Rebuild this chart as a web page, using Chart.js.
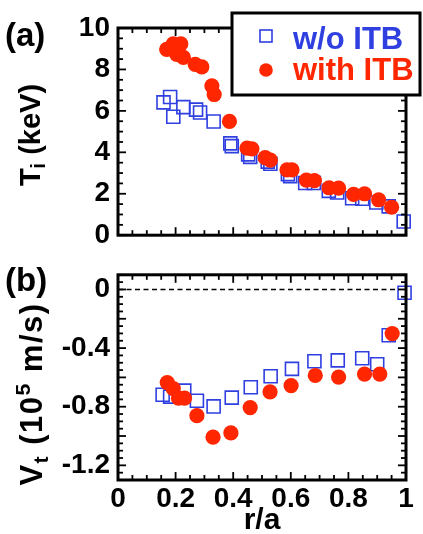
<!DOCTYPE html>
<html><head><meta charset="utf-8">
<script src="https://cdn.jsdelivr.net/npm/chart.js@4.4.1/dist/chart.umd.min.js"></script>
<style>
html,body{margin:0;padding:0;background:#fff;width:423px;height:534px;overflow:hidden;font-family:"Liberation Sans",Arial,sans-serif;}
canvas{position:absolute;left:0;}
#c1{top:0;}
#c2{top:250px;}
.lbl{position:absolute;font-weight:bold;color:#000;white-space:nowrap;line-height:1;}
.rot{transform:translate(-50%,-50%) rotate(-90deg);}
.rot sub{font-size:0.68em;vertical-align:-0.3em;line-height:0;}
.rot sup{font-size:0.68em;vertical-align:0.55em;line-height:0;}
</style></head><body>
<canvas id="c1" width="423" height="260"></canvas>
<canvas id="c2" width="423" height="284"></canvas>
<div class="lbl" style="left:5px;top:18px;font-size:33px;">(a)</div>
<div class="lbl" style="left:5px;top:263px;font-size:33px;">(b)</div>
<div class="lbl rot" style="left:30px;top:135px;font-size:29px;">T<sub>i</sub> (keV)</div>
<div class="lbl rot" style="left:31px;top:394px;font-size:31px;letter-spacing:1.5px;">V<sub>t</sub> (10<sup>5</sup> m/s)</div>
<script>
// ---- data ----
const seriesNames = ['w/o ITB', 'with ITB'];
const xTickValues = [0, 0.2, 0.4, 0.6, 0.8, 1];
const xTickLabels = ['0', '0.2', '0.4', '0.6', '0.8', '1'];
const tiTickValues = [0, 2, 4, 6, 8, 10];
const tiTickLabels = ['0', '2', '4', '6', '8', '10'];
const vtTickValues = [-1.2, -0.8, -0.4, 0];
const vtTickLabels = ['-1.2', '-0.8', '-0.4', '0'];

// (a) Ti profiles
const tiNoItbR = [0.158, 0.181, 0.192, 0.227, 0.271, 0.285, 0.332, 0.390, 0.395, 0.452, 0.459, 0.520, 0.529, 0.590, 0.598, 0.650, 0.680, 0.732, 0.761, 0.813, 0.848, 0.897, 0.940, 0.992];
const tiNoItbT = [6.41, 6.67, 5.72, 6.18, 6.06, 5.92, 5.49, 4.43, 4.30, 3.90, 3.78, 3.55, 3.45, 2.95, 2.85, 2.52, 2.52, 2.14, 2.06, 1.78, 1.76, 1.58, 1.39, 0.66];
const tiItbR = [0.169, 0.192, 0.218, 0.204, 0.227, 0.268, 0.291, 0.326, 0.334, 0.387, 0.448, 0.465, 0.511, 0.529, 0.587, 0.604, 0.654, 0.682, 0.733, 0.766, 0.818, 0.856, 0.905, 0.950];
const tiItbT = [8.97, 9.23, 9.23, 8.73, 8.58, 8.24, 8.12, 7.21, 6.79, 5.49, 4.20, 4.17, 3.74, 3.62, 3.15, 3.15, 2.66, 2.63, 2.29, 2.27, 1.97, 2.00, 1.71, 1.35];

// (b) Vt profiles (10^5 m/s)
const vtNoItbR = [0.155, 0.181, 0.230, 0.274, 0.332, 0.395, 0.461, 0.530, 0.604, 0.682, 0.763, 0.848, 0.900, 0.940, 0.995];
const vtNoItbV = [-0.718, -0.731, -0.690, -0.759, -0.798, -0.738, -0.667, -0.592, -0.542, -0.490, -0.484, -0.469, -0.510, -0.312, -0.022];
const vtItbR = [0.171, 0.192, 0.210, 0.231, 0.274, 0.330, 0.392, 0.459, 0.528, 0.601, 0.685, 0.766, 0.856, 0.909, 0.952];
const vtItbV = [-0.635, -0.677, -0.742, -0.742, -0.861, -1.008, -0.979, -0.806, -0.699, -0.656, -0.587, -0.598, -0.577, -0.577, -0.301];

// ---- styles ----
const BLUE = '#2f3fe0';
const RED = '#ff2600';
const FONT = '"Liberation Sans", Arial, sans-serif';

function pts(xs, ys) { return xs.map((x, i) => ({x: x, y: ys[i]})); }

function blueSet(xs, ys) {
  return {label: seriesNames[0], data: pts(xs, ys), pointStyle: 'rect', pointRadius: 9.2,
    pointBorderWidth: 1.6, pointBorderColor: BLUE, pointBackgroundColor: 'rgba(0,0,0,0)',
    borderColor: BLUE, backgroundColor: 'rgba(0,0,0,0)', showLine: false, order: 1, clip: false};
}
function redSet(xs, ys) {
  return {label: seriesNames[1], data: pts(xs, ys), pointStyle: 'circle', pointRadius: 7.6,
    pointBorderWidth: 0, pointBackgroundColor: RED, borderColor: RED, backgroundColor: RED,
    showLine: false, order: 0, clip: false};
}

function line(ctx, x1, y1, x2, y2) { ctx.beginPath(); ctx.moveTo(x1, y1); ctx.lineTo(x2, y2); ctx.stroke(); }

// frame + inward ticks on all four sides
const framePlugin = {
  id: 'frame',
  afterDatasetsDraw(chart, args, o) {
    const {ctx, chartArea: a, scales} = chart;
    ctx.save();
    ctx.strokeStyle = '#000';
    ctx.lineWidth = 1.8;
    const xs = scales.x, ys = scales.y;
    for (let k = 0; k <= 20; k++) {
      const px = xs.getPixelForValue(k * 0.05);
      const len = (k % 4 === 0) ? 8 : 5;
      line(ctx, px, a.bottom, px, a.bottom - len);
      line(ctx, px, a.top, px, a.top + len);
    }
    for (let k = o.kMin; k <= o.kMax; k++) {
      const v = k * o.minor;
      const py = ys.getPixelForValue(v);
      const len = (k % o.every === 0) ? 8 : 5;
      line(ctx, a.left, py, a.left + len, py);
      line(ctx, a.right, py, a.right - len, py);
    }
    if (o.zeroLine) {
      ctx.lineWidth = 1.5;
      ctx.setLineDash([5, 3.5]);
      const py = ys.getPixelForValue(0);
      line(ctx, a.left, py, xs.getPixelForValue(0.967), py);
      ctx.setLineDash([]);
    }
    ctx.lineWidth = 3;
    ctx.strokeRect(a.left, a.top, a.right - a.left, a.bottom - a.top);
    ctx.restore();
  }
};

// legend box drawn from the datasets
const legendPlugin = {
  id: 'boxLegend',
  afterDraw(chart, args, o) {
    if (!o.show) return;
    const ctx = chart.ctx;
    ctx.save();
    ctx.fillStyle = '#fff';
    ctx.fillRect(232, 13, 188, 82);
    ctx.strokeStyle = '#000';
    ctx.lineWidth = 3;
    ctx.strokeRect(232, 13, 188, 82);
    const ds = chart.data.datasets;
    const rows = [{my: 36, ty: 40}, {my: 70, ty: 71}];
    ds.forEach((d, i) => {
      const r = rows[i];
      if (d.pointStyle === 'rect') {
        ctx.strokeStyle = d.pointBorderColor; ctx.lineWidth = 1.6;
        ctx.strokeRect(260, r.my - 6, 12, 12);
      } else {
        ctx.fillStyle = d.pointBackgroundColor;
        ctx.beginPath(); ctx.arc(266, r.my, 6.8, 0, Math.PI * 2); ctx.fill();
      }
      ctx.fillStyle = d.pointStyle === 'rect' ? d.pointBorderColor : d.pointBackgroundColor;
      ctx.font = 'bold 31px ' + FONT;
      ctx.textBaseline = 'middle';
      ctx.textAlign = 'left';
      ctx.fillText(d.label, 293, r.ty);
    });
    ctx.restore();
  }
};

function yAxis(min, max, vals, labels) {
  return {
    type: 'linear', min: min, max: max,
    afterFit(s) { s.width = 118; },
    afterBuildTicks(s) { s.ticks = vals.map(v => ({value: v})); },
    grid: {display: false, drawTicks: false},
    border: {display: false},
    ticks: {padding: 8, color: '#000', font: {family: FONT, size: 28, weight: 'bold'},
      callback: (v) => labels[vals.indexOf(v)]}
  };
}

const common = {
  responsive: false, animation: false,
  events: [],
};

new Chart(document.getElementById('c1'), {
  type: 'scatter',
  data: {datasets: [blueSet(tiNoItbR, tiNoItbT), redSet(tiItbR, tiItbT)]},
  options: Object.assign({}, common, {
    layout: {padding: {left: 0, right: 17, top: 28, bottom: 13}},
    scales: {
      x: {type: 'linear', min: 0, max: 1, display: false},
      y: yAxis(0, 10, tiTickValues, tiTickLabels)
    },
    plugins: {legend: {display: false}, tooltip: {enabled: false},
      frame: {kMin: 0, kMax: 20, minor: 0.5, every: 4, zeroLine: false},
      boxLegend: {show: true}}
  }),
  plugins: [framePlugin, legendPlugin]
});

new Chart(document.getElementById('c2'), {
  type: 'scatter',
  data: {datasets: [blueSet(vtNoItbR, vtNoItbV), redSet(vtItbR, vtItbV)]},
  options: Object.assign({}, common, {
    layout: {padding: {left: 0, right: 17, top: 13, bottom: 0}},
    scales: {
      x: {type: 'linear', min: 0, max: 1,
        afterFit(s) { s.height = 54; },
        afterBuildTicks(s) { s.ticks = xTickValues.map(v => ({value: v})); },
        grid: {display: false, drawTicks: false},
        border: {display: false},
        ticks: {padding: 2, color: '#000', maxRotation: 0, font: {family: FONT, size: 28, weight: 'bold'},
          callback: (v) => xTickLabels[xTickValues.indexOf(v)]},
        title: {display: true, text: 'r/a', color: '#000',
          font: {family: FONT, size: 30, weight: 'bold', lineHeight: 1}, padding: {top: 0, bottom: -2}}
      },
      y: yAxis(-1.3, 0.1, vtTickValues, vtTickLabels)
    },
    plugins: {legend: {display: false}, tooltip: {enabled: false},
      frame: {kMin: -26, kMax: 2, minor: 0.05, every: 4, zeroLine: true},
      boxLegend: {show: false}}
  }),
  plugins: [framePlugin, legendPlugin]
});
</script>
</body></html>
